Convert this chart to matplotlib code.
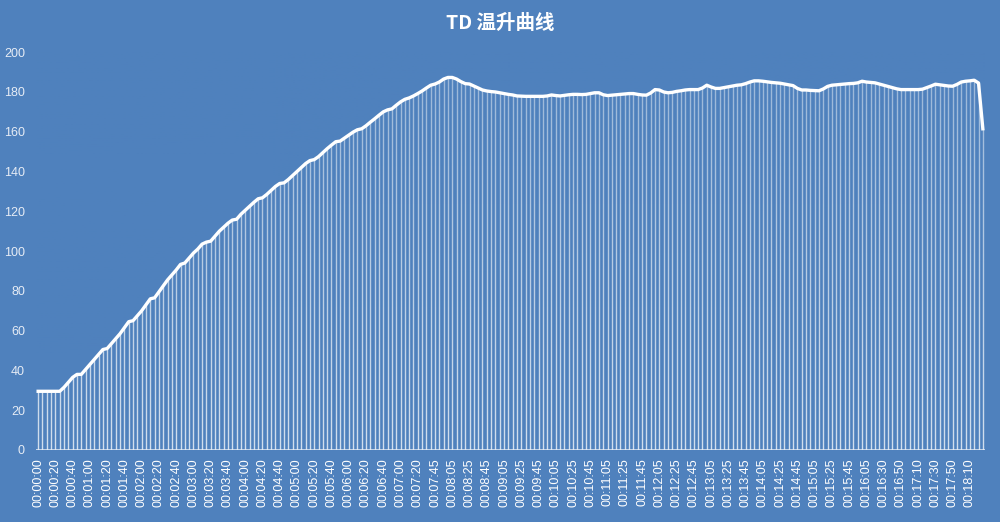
import numpy as np
import matplotlib
matplotlib.use("Agg")
from matplotlib import pyplot as plt

# temperature readings, one every ~5 s
temps = [
    29.5, 29.5, 29.5, 29.5, 29.5, 29.5, 31.5, 34.0, 36.5, 38.0,
    38.0, 40.5, 43.0, 45.5, 48.0, 50.5, 51.0, 53.5, 56.0, 58.5,
    61.5, 64.5, 65.0, 67.5, 70.0, 73.0, 76.0, 76.5, 79.5, 82.5,
    85.5, 88.0, 90.5, 93.3, 94.0, 96.5, 99.0, 101.0, 103.5, 104.5,
    105.0, 107.5, 110.0, 112.0, 114.0, 115.6, 116.0, 118.5, 120.5, 122.5,
    124.5, 126.3, 126.8, 128.5, 130.5, 132.5, 134.0, 134.3, 136.0, 138.0,
    140.0, 142.0, 144.0, 145.5, 146.0, 147.5, 149.5, 151.5, 153.3, 155.0,
    155.3, 156.8, 158.3, 159.8, 161.0, 161.5, 163.0, 164.8, 166.5, 168.3,
    170.0, 171.0, 171.5, 173.3, 175.0, 176.3, 177.0, 178.0, 179.2, 180.5,
    182.0, 183.4, 184.0, 185.0, 186.5, 187.3, 187.3, 186.5, 185.2, 184.2,
    184.0, 183.0, 182.0, 181.0, 180.5, 180.2, 180.0, 179.6, 179.2, 178.8,
    178.5, 178.0, 177.9, 177.8, 177.8, 177.8, 177.8, 177.8, 178.0, 178.5,
    178.2, 178.0, 178.3, 178.6, 178.8, 178.8, 178.7, 178.8, 179.2, 179.6,
    179.6, 178.6, 178.2, 178.4, 178.6, 178.8, 179.0, 179.2, 179.2, 178.8,
    178.5, 178.4, 179.5, 181.2, 181.0, 180.0, 179.6, 179.8, 180.3, 180.6,
    181.0, 181.2, 181.2, 181.2, 182.0, 183.4, 182.5, 181.8, 181.8, 182.2,
    182.6, 183.0, 183.4, 183.6, 184.2, 185.0, 185.6, 185.6, 185.4, 185.1,
    184.8, 184.6, 184.4, 184.0, 183.6, 183.2, 181.8, 181.0, 181.0, 180.8,
    180.7, 180.6, 181.5, 182.8, 183.4, 183.6, 183.8, 184.0, 184.2, 184.3,
    184.6, 185.4, 185.0, 184.8, 184.6, 184.0, 183.4, 182.8, 182.2, 181.6,
    181.2, 181.2, 181.2, 181.2, 181.2, 181.4, 182.2, 183.0, 183.9, 183.6,
    183.3, 183.0, 182.9, 183.8, 185.0, 185.4, 185.6, 185.9, 184.5, 161.5,
]

# labels shown on every 4th sample
time_labels = [
    "00:00:00", "00:00:20", "00:00:40", "00:01:00", "00:01:20", "00:01:40",
    "00:02:00", "00:02:20", "00:02:40", "00:03:00", "00:03:20", "00:03:40",
    "00:04:00", "00:04:20", "00:04:40", "00:05:00", "00:05:20", "00:05:40",
    "00:06:00", "00:06:20", "00:06:40", "00:07:00", "00:07:20", "00:07:45",
    "00:08:05", "00:08:25", "00:08:45", "00:09:05", "00:09:25", "00:09:45",
    "00:10:05", "00:10:25", "00:10:45", "00:11:05", "00:11:25", "00:11:45",
    "00:12:05", "00:12:25", "00:12:45", "00:13:05", "00:13:25", "00:13:45",
    "00:14:05", "00:14:25", "00:14:45", "00:15:05", "00:15:25", "00:15:45",
    "00:16:05", "00:16:30", "00:16:50", "00:17:10", "00:17:30", "00:17:50",
    "00:18:10",
]
label_step = 4

bg = "#4f81bd"
plt.rcParams['font.family'] = ['Noto Sans CJK SC', 'DejaVu Sans']

x = np.arange(len(temps))
y = np.array(temps)

fig = plt.figure(figsize=(10, 5.22), dpi=100, facecolor=bg)
ax = fig.add_axes([0.036, 0.138, 0.949, 0.762])
ax.set_facecolor(bg)

ax.vlines(x, 0, y, color="white", linewidth=1.0, alpha=0.75, zorder=2)

# fade the drop lines towards the bottom
grad = np.zeros((200, 2, 4))
rgb = matplotlib.colors.to_rgb(bg)
grad[..., :3] = rgb
grad[..., 3] = np.linspace(0.0, 0.45, 200)[:, None]
ax.imshow(grad, extent=(-0.5, len(temps) - 0.5, 200, 0), aspect="auto",
          origin="upper", zorder=2.5)

ax.plot(x, y, color="white", linewidth=2.4, solid_joinstyle="round", zorder=3)
ax.axhline(0, color="#e8eef6", linewidth=1.8, zorder=4)

ax.set_xlim(-0.5, len(temps) - 0.5)
ax.set_ylim(0, 200)
ax.set_yticks(range(0, 201, 20))
ax.set_xticks(x[::label_step][:len(time_labels)])
ax.set_xticklabels(time_labels, rotation=90, family=['Liberation Sans'], fontsize=9)
ax.tick_params(axis="x", colors="white", length=0, pad=6)
ax.tick_params(axis="y", colors="#e6ecf5", length=0, pad=8, labelsize=9)
for lbl in ax.get_yticklabels():
    lbl.set_family(['Liberation Sans'])
for s in ax.spines.values():
    s.set_visible(False)

fig.text(0.5, 0.955, "TD 温升曲线", ha="center", va="center", color="white",
         fontsize=14, fontweight="bold")

fig.savefig("out.png", dpi=100, facecolor=bg)
